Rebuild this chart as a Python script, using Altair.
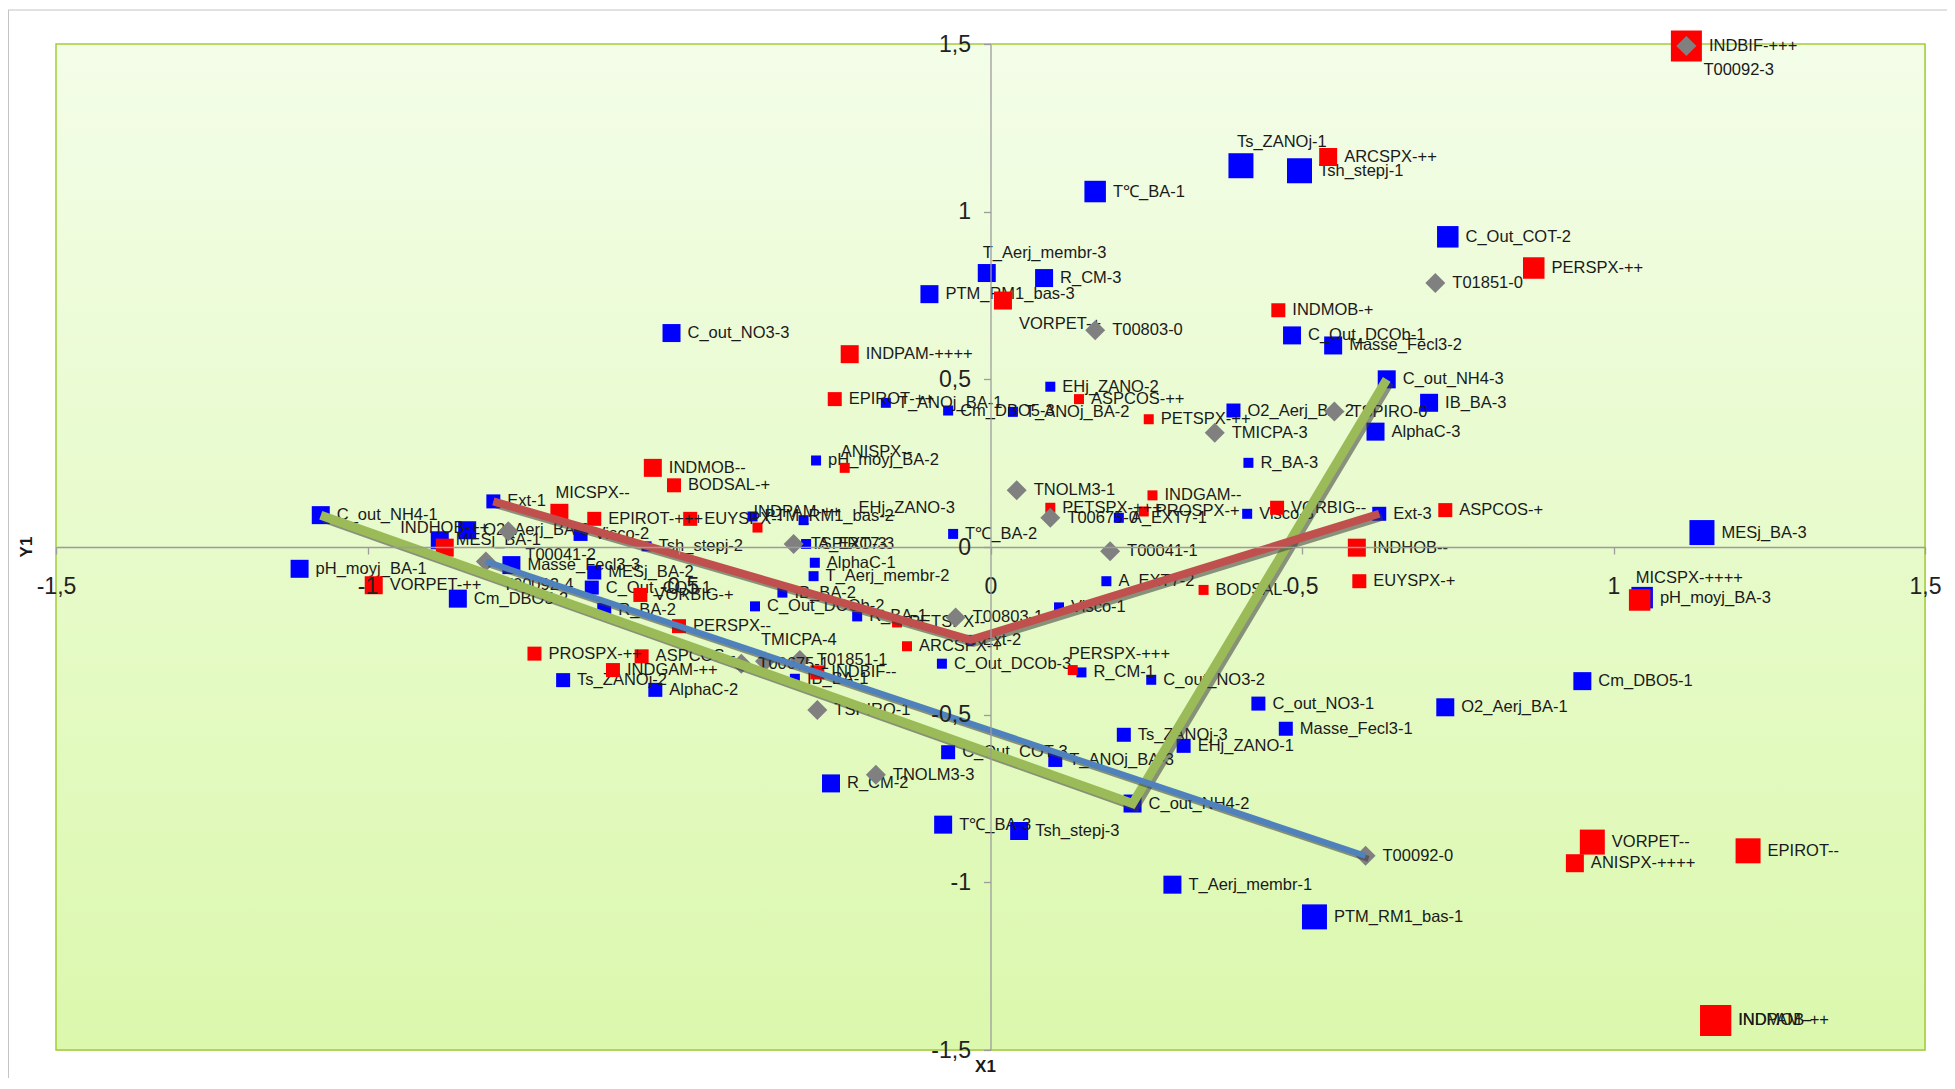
import altair as alt
import pandas as pd

W, H = 1869, 1006
FONT = "Liberation Sans, Arial, sans-serif"

# ---------------- data: variables (blue squares) ----------------
VAR_NAMES = ["C_out_NH4-1", "pH_moyj_BA-1", "Cm_DBO5-2", "Masse_Fecl3-3", "O2_Aerj_BA-3", "MESj_BA-1",
             "Visco-2", "MESj_BA-2", "C_Out_COT-1", "R_BA-2", "Tsh_stepj-2", "Ext-1", "Ts_ZANOj-2",
             "AlphaC-2", "PTM_RM1_bas-2", "EHj_ZANO-3", "A_EXT7-3", "AlphaC-1", "T_Aerj_membr-2",
             "IB_BA-2", "C_Out_DCOb-2", "R_BA-1", "T℃_BA-2", "Ext-2", "IB_BA-1", "C_Out_DCOb-3",
             "R_CM-1", "C_out_NO3-2", "C_out_NO3-1", "Masse_Fecl3-1", "Ts_ZANOj-3", "EHj_ZANO-1",
             "C_Out_COT-3", "T_ANOj_BA-3", "C_out_NH4-2", "R_CM-2", "T℃_BA-3", "Tsh_stepj-3",
             "T_Aerj_membr-1", "PTM_RM1_bas-1", "O2_Aerj_BA-1", "Cm_DBO5-1", "pH_moyj_BA-3",
             "MESj_BA-3", "Ext-3", "Visco-3", "A_EXT7-1", "A_EXT7-2", "Visco-1", "R_BA-3",
             "AlphaC-3", "IB_BA-3", "C_out_NH4-3", "Masse_Fecl3-2", "C_Out_DCOb-1", "O2_Aerj_BA-2",
             "EHj_ZANO-2", "T_ANOj_BA-2", "Cm_DBO5-3", "T_ANOj_BA-1", "pH_moyj_BA-2", "C_out_NO3-3",
             "T_Aerj_membr-3", "R_CM-3", "PTM_RM1_bas-3", "T℃_BA-1", "Ts_ZANOj-1", "Tsh_stepj-1",
             "C_Out_COT-2"]
VAR_X = [-1.075, -1.109, -0.855, -0.769, -0.84, -0.884, -0.658, -0.636, -0.64, -0.62, -0.552, -0.798,
         -0.686, -0.538, -0.382, -0.30, -0.296, -0.282, -0.284, -0.334, -0.378, -0.214, -0.06, -0.032,
         -0.314, -0.078, 0.146, 0.258, 0.43, 0.474, 0.214, 0.31, -0.068, 0.104, 0.228, -0.256, -0.076,
         0.046, 0.292, 0.52, 0.73, 0.95, 1.046, 1.142, 0.624, 0.412, 0.206, 0.186, 0.11, 0.414, 0.618,
         0.704, 0.636, 0.55, 0.484, 0.39, 0.096, 0.036, -0.068, -0.168, -0.28, -0.512, -0.006, 0.086,
         -0.098, 0.168, 0.402, 0.496, 0.734]
VAR_Y = [0.095, -0.065, -0.154, -0.054, 0.05, 0.02, 0.039, -0.076, -0.121, -0.188, 0.002, 0.136,
         -0.397, -0.426, 0.091, 0.08, 0.009, -0.047, -0.087, -0.136, -0.177, -0.207, 0.039, -0.277,
         -0.393, -0.348, -0.374, -0.396, -0.467, -0.542, -0.560, -0.593, -0.612, -0.635, -0.765,
         -0.705, -0.828, -0.847, -1.007, -1.103, -0.478, -0.400, -0.151, 0.043, 0.099, 0.099, 0.087,
         -0.102, -0.18, 0.251, 0.344, 0.43, 0.50, 0.601, 0.631, 0.407, 0.478, 0.403, 0.407, 0.43,
         0.258, 0.638, 0.817, 0.802, 0.754, 1.06, 1.137, 1.122, 0.925]
VAR_LVL = [3, 3, 3, 3, 3, 3, 2, 2, 2, 2, 1, 2, 2, 2, 1, 1, 1, 1, 1, 1, 1, 1, 1, 1, 1, 1, 1, 1, 2, 2,
           2, 2, 2, 2, 3, 3, 3, 3, 3, 5, 3, 3, 4, 5, 2, 1, 1, 1, 1, 1, 3, 3, 3, 3, 3, 2, 1, 1, 1, 1,
           1, 3, 3, 3, 3, 4, 5, 5, 4]

# ---------------- data: species modalities (red squares) ----------------
SP_NAMES = ["INDBIF-+++", "ARCSPX-++", "PERSPX-++", "INDMOB-+", "VORPET-+", "INDPAM-++++", "EPIROT-++",
            "ASPCOS-++", "PETSPX-++", "INDMOB--", "BODSAL-+", "ANISPX--", "INDGAM--", "PETSPX-+++",
            "PROSPX-+", "VORBIG--", "ASPCOS-+", "INDHOB--", "EUYSPX-+", "MICSPX-++++", "VORPET--",
            "ANISPX-++++", "EPIROT--", "INDMOB-++", "INDPAM--", "BODSAL--", "PERSPX-+++", "ARCSPX-+",
            "PETSPX--", "INDBIF--", "INDGAM-++", "ASPCOS--", "PROSPX-++", "PERSPX--", "VORBIG-+",
            "VORPET-++", "INDHOB-++", "MICSPX--", "EPIROT-+++", "EUYSPX--", "INDPAM-++"]
SP_X = [1.117, 0.542, 0.872, 0.462, 0.02, -0.226, -0.25, 0.142, 0.254, -0.542, -0.508, -0.234, 0.26,
        0.096, 0.246, 0.46, 0.73, 0.588, 0.592, 1.042, 0.966, 0.938, 1.216, 1.164, 1.164, 0.342, 0.132,
        -0.134, -0.15, -0.278, -0.606, -0.56, -0.732, -0.50, -0.562, -0.99, -0.876, -0.692, -0.636,
        -0.482, -0.374]
SP_Y = [1.494, 1.163, 0.832, 0.706, 0.735, 0.575, 0.441, 0.441, 0.381, 0.236, 0.184, 0.236, 0.154,
        0.117, 0.106, 0.117, 0.11, -0.002, -0.102, -0.158, -0.88, -0.943, -0.906, -1.412, -1.412,
        -0.128, -0.367, -0.296, -0.225, -0.374, -0.367, -0.326, -0.318, -0.236, -0.143, -0.114,
        -0.002, 0.102, 0.084, 0.084, 0.058]
SP_LVL = [6, 3, 4, 2, 3, 3, 2, 1, 1, 3, 2, 1, 1, 1, 1, 2, 2, 3, 2, 4, 5, 3, 5, 6, 6, 1, 1, 1, 1, 2, 2,
          2, 2, 2, 2, 3, 3, 3, 2, 2, 1]

# ---------------- data: taxa (grey diamonds) ----------------
TAX_NAMES = ["T00092-3", "T01851-0", "T00803-0", "TSPIRO-0", "TMICPA-3", "TNOLM3-1", "T00675-0",
             "T00041-1", "T00803-1", "TSPIRO-3", "T00041-2", "T00092-4", "T00675-1", "TMICPA-4",
             "T01851-1", "TSPIRO-1", "TNOLM3-3", "T00092-0"]
TAX_X = [1.117, 0.714, 0.168, 0.552, 0.36, 0.042, 0.096, 0.192, -0.056, -0.316, -0.774, -0.81, -0.40,
         -0.362, -0.306, -0.278, -0.184, 0.602]
TAX_Y = [1.494, 0.787, 0.646, 0.404, 0.341, 0.169, 0.087, -0.013, -0.21, 0.009, 0.047, -0.043, -0.348,
         -0.341, -0.337, -0.486, -0.679, -0.921]

# ---------------- trajectories ----------------
LINE_ORDER = ["green", "red", "blue"]
LINE_PATHS = {
    "green": ["C_out_NH4-1", "C_out_NH4-2", "C_out_NH4-3"],
    "red": ["Ext-1", "Ext-2", "Ext-3"],
    "blue": ["T00092-4", "T00092-0"],
}

TICKS = [-1.5, -1, -0.5, 0, 0.5, 1, 1.5]

# ---------------- styles ----------------
SIDE = {0: 20, 1: 10, 2: 14, 3: 18, 4: 21.5, 5: 25, 6: 31}
DIAMOND_W = 20
LINE_STYLE = {"green": ("#9BBB59", 9), "red": ("#C0504D", 8), "blue": ("#4F81BD", 6)}
LABEL_POS = {"T_Aerj_membr-3": "a", "Ts_ZANOj-1": "a", "MICSPX-++++": "a", "ANISPX--": "a",
             "PERSPX-+++": "a", "TMICPA-4": "a", "INDPAM-++": "a", "MICSPX--": "a",
             "INDHOB-++": "ac", "EHj_ZANO-3": "ar", "T00092-3": "br", "VORPET-+": "br",
             "T00041-2": "br", "T00092-4": "br"}
LABEL_SIZE = 16.5

rows = []
for kind, names, xs, ys, lv in [("var", VAR_NAMES, VAR_X, VAR_Y, VAR_LVL),
                                ("sp", SP_NAMES, SP_X, SP_Y, SP_LVL),
                                ("tax", TAX_NAMES, TAX_X, TAX_Y, [0] * len(TAX_NAMES))]:
    for n, x, y, l in zip(names, xs, ys, lv):
        rows.append({"name": n, "x": x, "y": y, "kind": kind, "lvl": l,
                     "area": SIDE[l] ** 2, "pos": LABEL_POS.get(n, "r")})
pts = pd.DataFrame(rows)

lookup = {r["name"]: (r["x"], r["y"]) for _, r in pts.iterrows()}
lrows = []
for s in LINE_ORDER:
    for i, n in enumerate(LINE_PATHS[s]):
        x, y = lookup[n]
        lrows.append({"series": s, "ord": i, "x": x, "y": y})
lines = pd.DataFrame(lrows)

label_expr = "replace('' + datum.value, '.', ',')"
common_axis = dict(values=TICKS, title=None, grid=False, domainColor="#9C9C9C", tickColor="#9C9C9C",
                   domainWidth=1.3, tickWidth=1.3, tickSize=7, labelFont=FONT, labelFontSize=23,
                   labelColor="#222222", labelExpr=label_expr, labelFlush=False, labelOverlap=False,
                   zindex=1)
x_axis = alt.Axis(offset=-H / 2, labelPadding=21, **common_axis)
y_axis = alt.Axis(offset=-W / 2, labelPadding=13, **common_axis)
X = alt.X("x:Q", scale=alt.Scale(domain=[-1.5, 1.5], nice=False, zero=False), axis=x_axis)
Y = alt.Y("y:Q", scale=alt.Scale(domain=[-1.5, 1.5], nice=False, zero=False), axis=y_axis)

one = pd.DataFrame({"k": [0]})
layers = []

# plot background with gradient and border
layers.append(alt.Chart(one).mark_rect(
    fill=alt.Gradient(gradient="linear", x1=0, y1=0, x2=0, y2=1,
                      stops=[alt.GradientStop(offset=0, color="#F3FDE8"),
                             alt.GradientStop(offset=1, color="#DBF8AD")]),
    stroke="#A3CD39", strokeWidth=1.5
).encode(x=alt.value(0), x2=alt.value(W), y=alt.value(0), y2=alt.value(H)))

# outer chart border (top, left)
layers.append(alt.Chart(one).mark_rule(color="#C4C4C4", strokeWidth=1).encode(
    x=alt.value(-48), x2=alt.value(W + 22), y=alt.value(-34)))
layers.append(alt.Chart(one).mark_rule(color="#C4C4C4", strokeWidth=1).encode(
    x=alt.value(-47.5), y=alt.value(-34), y2=alt.value(H + 28)))


def label_layers(sub):
    out = []
    sub = sub.copy()
    sub["half"] = sub["lvl"].map(lambda l: SIDE[l] / 2)
    for (pos, half), g in sub.groupby(["pos", "half"]):
        if pos == "r":
            kw = dict(align="left", dx=half + 7, dy=0)
        elif pos == "a":
            kw = dict(align="left", dx=-4, dy=-(half + 11))
        elif pos == "ac":
            kw = dict(align="center", dx=0, dy=-(half + 11))
        elif pos == "ar":
            kw = dict(align="left", dx=half + 50, dy=-12)
        else:  # below right
            kw = dict(align="left", dx=half + 7, dy=half + 14)
        out.append(alt.Chart(g).mark_text(baseline="middle", font=FONT, fontSize=LABEL_SIZE,
                                          color="#1A1A1A", **kw).encode(x=X, y=Y, text="name:N"))
    return out


for kind, color in [("var", "#0000FF"), ("sp", "#FF0000")]:
    sub = pts[pts["kind"] == kind]
    layers.append(alt.Chart(sub).mark_point(shape="square", filled=True, opacity=1, color=color,
                                            strokeWidth=0).encode(
        x=X, y=Y, size=alt.Size("area:Q", scale=None, legend=None)))
    layers += label_layers(sub)

sub = pts[pts["kind"] == "tax"]
layers.append(alt.Chart(sub).mark_point(shape="diamond", filled=True, opacity=1, color="#808080",
                                        strokeWidth=0, size=DIAMOND_W ** 2).encode(x=X, y=Y))
layers += label_layers(sub)

for s in LINE_ORDER:
    col, sw = LINE_STYLE[s]
    d = lines[lines["series"] == s]
    layers.append(alt.Chart(d).mark_line(color="#3A3A3A", opacity=0.55, strokeWidth=sw,
                                         strokeCap="butt", strokeJoin="miter",
                                         xOffset=3, yOffset=3).encode(x=X, y=Y, order="ord:Q"))
    layers.append(alt.Chart(d).mark_line(color=col, strokeWidth=sw, strokeCap="butt",
                                         strokeJoin="miter").encode(x=X, y=Y, order="ord:Q"))

# axis titles
layers.append(alt.Chart(pd.DataFrame({"t": ["X1"]})).mark_text(
    font=FONT, fontSize=17, fontWeight="bold", color="#1A1A1A", baseline="middle").encode(
    text="t:N", x=alt.value(W / 2 - 5), y=alt.value(H + 17)))
layers.append(alt.Chart(pd.DataFrame({"t": ["Y1"]})).mark_text(
    font=FONT, fontSize=17, fontWeight="bold", color="#1A1A1A", baseline="middle", angle=270).encode(
    text="t:N", x=alt.value(-29), y=alt.value(H / 2)))

chart = alt.layer(*layers).properties(
    width=W, height=H,
    padding={"left": 48, "top": 36, "right": 22, "bottom": 28},
    autosize=alt.AutoSizeParams(type="none"),
).configure_view(strokeWidth=0).configure(background="white")

chart.save("out.html", embed_options={"renderer": "svg", "actions": False})
